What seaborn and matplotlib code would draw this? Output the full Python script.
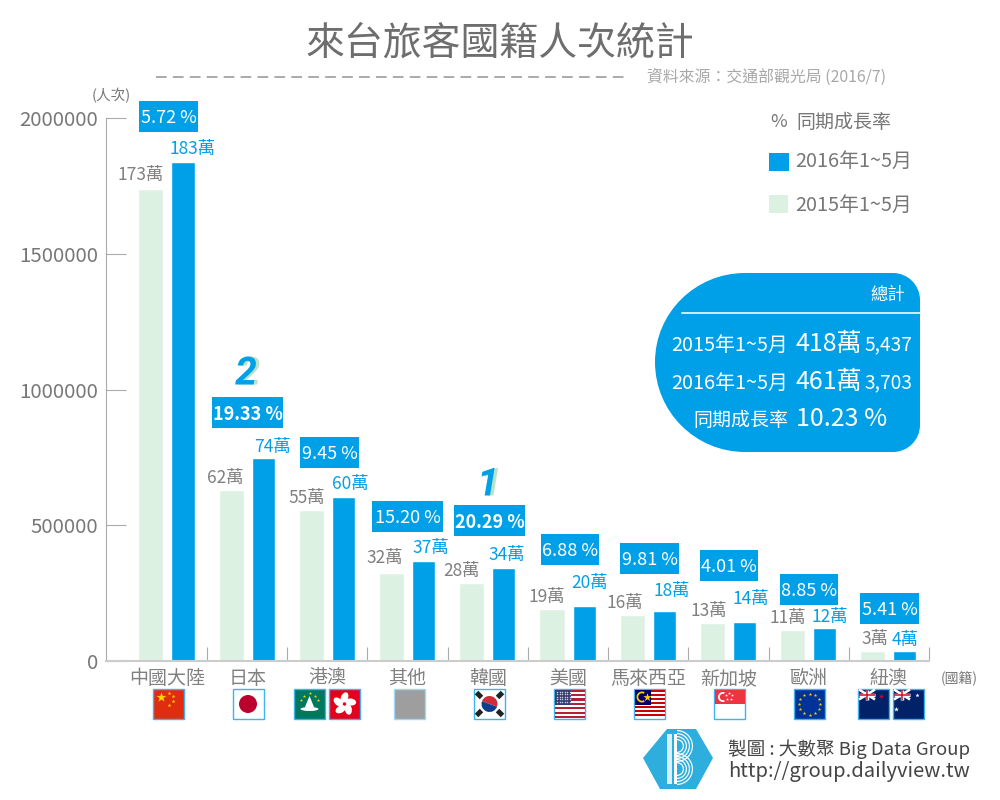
import numpy as np
import matplotlib
matplotlib.use('Agg')
import matplotlib.pyplot as plt
import matplotlib.patheffects as pe
from matplotlib.patches import Rectangle, Circle, Ellipse, Polygon, PathPatch, Wedge
from matplotlib.path import Path
import pandas as pd
import seaborn as sns

# data
paises = ['中國大陸', '日本', '港澳', '其他', '韓國', '美國', '馬來西亞', '新加坡', '歐洲', '紐澳']
v2015 = [1738000, 630000, 556000, 324000, 287000, 191000, 169000, 140000, 114000, 37000]
v2016 = [1838000, 748000, 604000, 368000, 342000, 203000, 184000, 144000, 122000, 37000]
rot2015 = ['173萬', '62萬', '55萬', '32萬', '28萬', '19萬', '16萬', '13萬', '11萬', '3萬']
rot2016 = ['183萬', '74萬', '60萬', '37萬', '34萬', '20萬', '18萬', '14萬', '12萬', '4萬']
cresc = ['5.72 %', '19.33 %', '9.45 %', '15.20 %', '20.29 %', '6.88 %', '9.81 %', '4.01 %', '8.85 %', '5.41 %']
yticks = [0, 500000, 1000000, 1500000, 2000000]

# ajuste dos rotulos em pixels, os dois anos se empurram um ao outro
dx15 = [-10, -6, -5, -7, -10, -5, -7, -4, -5, 2]
dy15 = [2, 0, 0, 3, 0, 0, 0, 0, 0, 0]
dx16 = [10, 9, 7, 7, 3, 6, 7, 6, 5, 0]
dy16 = [3, 1, 3, 3, 3, 12, 10, 13, 0, 1]

AZUL = '#00a0e9'
VERDE = '#ddf1e2'
CINZA = '#808080'
FONTE = ['Noto Sans CJK TC', 'DejaVu Sans']

sns.set_theme(style='white')
plt.rcParams['font.family'] = FONTE
plt.rcParams['axes.unicode_minus'] = False

fig = plt.figure(figsize=(10, 8), dpi=100)
ax = fig.add_axes([0.106, 1 - 661 / 800, 0.823, (661 - 118) / 800])

df = pd.DataFrame({
    'pais': paises * 2,
    'valor': v2015 + v2016,
    'ano': ['2015'] * 10 + ['2016'] * 10,
})
sns.barplot(data=df, x='pais', y='valor', hue='ano', order=paises, hue_order=['2015', '2016'],
            palette={'2015': VERDE, '2016': AZUL}, width=0.8, gap=0.22, legend=False, ax=ax, saturation=1)
# as barras azuis sao um pouco mais estreitas
for b in ax.containers[1]:
    w = b.get_width()
    b.set_x(b.get_x() + 0.012)
    b.set_width(w - 0.024)

ax.set_xlim(-0.76, 9.5)
ax.set_ylim(0, 2000000)
ax.set_xlabel('')
ax.set_ylabel('')
ax.set_yticks(yticks)
ax.set_yticklabels([str(v) for v in yticks], fontsize=14.7, color='#777777')
ax.tick_params(axis='y', direction='in', length=14.4, width=0.8, color='#aaaaaa', pad=5.5, left=True)
ax.set_xticks(range(10))
ax.set_xticklabels(paises, fontsize=13.7, color='#808080')
ax.tick_params(axis='x', length=0, pad=5)
ax.set_xticks(np.arange(0.5, 9.6, 1), minor=True)
ax.tick_params(axis='x', which='minor', direction='in', length=10, width=0.8, color='#aaaaaa', bottom=True)
for s in ['top', 'right']:
    ax.spines[s].set_visible(False)
ax.spines['left'].set_color('#aaaaaa')
ax.spines['left'].set_linewidth(0.8)
ax.spines['bottom'].set_color('#cccccc')
ax.spines['bottom'].set_linewidth(1.5)

for i in range(10):
    ax.annotate(rot2015[i], (i - 0.2, v2015[i]), xytext=(dx15[i] * 0.72, 2 + dy15[i] * 0.72), textcoords='offset points',
                ha='center', va='bottom', fontsize=12.5, color=CINZA)
    ax.annotate(rot2016[i], (i + 0.2, v2016[i]), xytext=(dx16[i] * 0.72, 1 + dy16[i] * 0.72), textcoords='offset points',
                ha='center', va='bottom', fontsize=12.5, color=AZUL)

# camada de cima, em pixels da imagem
ov = fig.add_axes([0, 0, 1, 1], zorder=5)
ov.set_xlim(0, 1000)
ov.set_ylim(800, 0)
ov.axis('off')
ov.patch.set_alpha(0)

def txt(x, y, s, size, color='#777777', ha='center', **kw):
    return ov.text(x, y, s, fontsize=size, color=color, ha=ha, va='center', **kw)

txt(500, 44, '來台旅客國籍人次統計', 28, '#6e6e6e')
ov.plot([156, 628], [77, 77], color='#aaaaaa', lw=1.4, dashes=(5.5, 3.2))
txt(886, 77, '資料來源：交通部觀光局 (2016/7)', 11.4, '#a8a8a8', ha='right')
txt(111, 96, '(人次)', 10.5, '#777777')
txt(959, 679, '(國籍)', 10, '#777777')

# caixas de crescimento
caixas = [(139, 101, 59), (212, 397, 71), (300, 437, 59), (372, 501, 71), (454, 505, 71),
          (541, 534, 58), (620, 543, 59), (700, 550, 58), (780, 574, 58), (860, 593, 59)]
for (x, y, w), c in zip(caixas, cresc):
    ov.add_patch(Rectangle((x, y), w, 31, fc=AZUL, ec='none'))
    neg = c in ('19.33 %', '20.29 %')
    txt(x + w / 2, y + 17, c, 13, 'white', fontweight='bold' if neg else 'normal')

# numeros de ranking, a sombra verde vem do path effect
for s, x, y in [('2', 246, 374), ('1', 488, 485)]:
    t = txt(x, y, s, 28, AZUL, family='Roboto', style='italic', fontweight='bold')
    t.set_path_effects([pe.SimplePatchShadow(offset=(2.5, 0), shadow_rgbFace='#b9e2c6', alpha=1), pe.Normal()])

# legenda
txt(770, 122, '%', 13, ha='left')
txt(796, 122, '同期成長率', 13.7, ha='left')
ov.add_patch(Rectangle((769, 153), 20, 18, fc=AZUL, ec='none'))
txt(795, 161, '2016年1~5月', 14.3, ha='left')
ov.add_patch(Rectangle((769, 195), 19, 18, fc=VERDE, ec='none'))
txt(795, 205, '2015年1~5月', 14.3, ha='left')

# painel do total
x0, x1, y0, y1 = 655, 920, 273, 452
ym = 362
k = 0.5523
rd = 27
xt = 745
verts = [(xt, y0), (x1 - rd, y0), (x1 - rd + k * rd, y0), (x1, y0 + rd - k * rd), (x1, y0 + rd),
         (x1, y1 - rd), (x1, y1 - rd + k * rd), (x1 - rd + k * rd, y1), (x1 - rd, y1),
         (xt, y1), (xt - k * (xt - x0), y1), (x0, ym + k * (y1 - ym)), (x0, ym),
         (x0, ym - k * (ym - y0)), (xt - k * (xt - x0), y0), (xt, y0)]
codes = [Path.MOVETO, Path.LINETO, Path.CURVE4, Path.CURVE4, Path.CURVE4,
         Path.LINETO, Path.CURVE4, Path.CURVE4, Path.CURVE4,
         Path.LINETO, Path.CURVE4, Path.CURVE4, Path.CURVE4,
         Path.CURVE4, Path.CURVE4, Path.CURVE4]
ov.add_patch(PathPatch(Path(verts, codes), fc=AZUL, ec='none'))
ov.plot([682, 920], [313, 313], color='#cfeefb', lw=1.4)
txt(905, 295, '總計', 12.5, 'white', ha='right')
txt(788, 345, '2015年1~5月', 14.3, 'white', ha='right')
txt(796, 344, '418萬', 18, 'white', ha='left')
txt(912, 345, '5,437', 13.8, 'white', ha='right')
txt(788, 383, '2016年1~5月', 14.3, 'white', ha='right')
txt(796, 382, '461萬', 18, 'white', ha='left')
txt(912, 383, '3,703', 13.8, 'white', ha='right')
txt(788, 420, '同期成長率', 13.7, 'white', ha='right')
txt(796, 419, '10.23 %', 18, 'white', ha='left')

# bandeiras
def fundo(x, cor, borda='#3db4ee'):
    ov.add_patch(Rectangle((x, 689), 31, 29.5, fc=cor, ec=borda, lw=1))

def estrela(x, y, cor, s):
    ov.scatter([x], [y], marker='*', s=s, c=cor, linewidths=0, zorder=6)

def cn(x):
    fundo(x, '#e02d10')
    estrela(x + 8, 697, '#ffd800', 55)
    for dx, dy in [(16, 692.5), (20, 696), (20, 701), (16, 705)]:
        estrela(x + dx, dy, '#ffd800', 8)

def jp(x):
    fundo(x, 'white')
    ov.add_patch(Circle((x + 15.5, 704), 9, fc='#bc002d', ec='none', zorder=3))

def mo(x):
    fundo(x, '#00785e')
    ov.add_patch(Polygon([(x + 11, 707), (x + 15.5, 696), (x + 20, 707)], fc='white', ec='none', zorder=3))
    ov.add_patch(Ellipse((x + 15.5, 709), 18, 4, fc='white', ec='none', zorder=3))
    for dx, dy in [(7, 700), (10, 696), (15.5, 693), (21, 696), (24, 700)]:
        estrela(x + dx, dy, '#ffd800', 6)

def hk(x):
    fundo(x, '#e5001b')
    for a in range(0, 360, 72):
        r = np.deg2rad(a - 90)
        ov.add_patch(Ellipse((x + 15.5 + 6.5 * np.cos(r), 704 + 6.5 * np.sin(r)), 11, 7, angle=a - 90 + 25,
                             fc='white', ec='none', zorder=3))

def outro(x):
    fundo(x, '#9e9e9e', '#9fd8f2')

def kr(x):
    fundo(x, 'white')
    c = (x + 15.5, 704)
    ov.add_patch(Wedge(c, 8, 200, 20, fc='#cd2e3a', ec='none', zorder=3))
    ov.add_patch(Wedge(c, 8, 20, 200, fc='#0f3f8c', ec='none', zorder=3))
    for dx, dy in [(5, 695), (26, 695), (5, 713), (26, 713)]:
        ang = 45 if (dx < 15) == (dy < 704) else -45
        ov.add_patch(Rectangle((x + dx - 3.5, dy - 2.5), 7, 5, angle=ang, rotation_point='center',
                               fc='#222222', ec='none', zorder=3))

def us(x):
    fundo(x, 'white')
    for i in range(0, 13, 2):
        ov.add_patch(Rectangle((x + 1, 689.5 + i * 2.2), 29.5, 2.2, fc='#b22234', ec='none', zorder=3))
    ov.add_patch(Rectangle((x + 1, 689.5), 16, 15.5, fc='#3c3b6e', ec='none', zorder=4))
    px, py = np.meshgrid(np.arange(x + 3, x + 16, 2.5), np.arange(691.5, 704, 2.5))
    ov.scatter(px.ravel(), py.ravel(), s=1.2, c='#c8c8e0', linewidths=0, zorder=5)

def my(x):
    fundo(x, 'white')
    for i in range(0, 14, 2):
        ov.add_patch(Rectangle((x + 1, 689.5 + i * 2.05), 29.5, 2.05, fc='#cc0001', ec='none', zorder=3))
    ov.add_patch(Rectangle((x + 1, 689.5), 16, 15, fc='#010066', ec='none', zorder=4))
    ov.add_patch(Wedge((x + 8, 697), 5.5, 60, 300, width=1.8, fc='#ffcc00', ec='none', zorder=5))
    estrela(x + 13, 697, '#ffcc00', 40)

def sg(x):
    fundo(x, 'white')
    ov.add_patch(Rectangle((x + 1, 689.5), 29.5, 14.5, fc='#ef3340', ec='none', zorder=3))
    ov.add_patch(Wedge((x + 9, 697), 5, 70, 290, width=1.8, fc='white', ec='none', zorder=4))
    for dx, dy in [(15, 693), (18, 695), (17, 699), (13, 699), (12, 695)]:
        estrela(x + dx, dy, 'white', 5)

def eu(x):
    fundo(x, '#003399')
    for a in np.arange(0, 360, 30):
        r = np.deg2rad(a)
        estrela(x + 15.5 + 10.5 * np.cos(r), 704 + 10.5 * np.sin(r), '#ffcc00', 7)

def union(x):
    ov.add_patch(Rectangle((x + 1, 689.5), 16, 10, fc='#012169', ec='none', zorder=3))
    ov.plot([x + 1, x + 17], [689.5, 699.5], color='white', lw=1.8, zorder=4, solid_capstyle='butt')
    ov.plot([x + 1, x + 17], [699.5, 689.5], color='white', lw=1.8, zorder=4, solid_capstyle='butt')
    ov.plot([x + 9, x + 9], [689.5, 699.5], color='white', lw=2.5, zorder=4, solid_capstyle='butt')
    ov.plot([x + 1, x + 17], [694.5, 694.5], color='white', lw=2.5, zorder=4, solid_capstyle='butt')
    ov.plot([x + 9, x + 9], [689.5, 699.5], color='#c8102e', lw=1.1, zorder=5, solid_capstyle='butt')
    ov.plot([x + 1, x + 17], [694.5, 694.5], color='#c8102e', lw=1.1, zorder=5, solid_capstyle='butt')

def nz(x):
    fundo(x, '#012169')
    union(x)
    estrela(x + 23, 696, '#e4002b', 14)

def au(x):
    fundo(x, '#012169')
    union(x)
    estrela(x + 24, 695, 'white', 10)
    estrela(x + 3, 709, 'white', 14)

for f, x in [(cn, 153), (jp, 232.5), (mo, 294), (hk, 329), (outro, 394), (kr, 474), (us, 554),
             (my, 634), (sg, 714), (eu, 794), (nz, 858), (au, 893)]:
    f(x)

# logo
LOGO = '#2eaedc'
ov.add_patch(Polygon([(643, 758), (667, 729), (696, 729), (713, 758), (696, 789), (660, 789)], fc=LOGO, ec='none'))
ov.add_patch(Rectangle((667, 734), 5, 50, fc='#d8f0fa', ec='none', zorder=3))
ov.add_patch(Rectangle((674, 734), 2.5, 50, fc='white', ec='none', zorder=3))
for r in [6, 9, 12, 15]:
    ov.add_patch(Wedge((677, 746), r + 1, -90, 90, width=1.2, fc='white', ec='none', zorder=3))
    ov.add_patch(Wedge((677, 769), r + 1, -90, 90, width=1.2, fc='white', ec='none', zorder=3))
txt(728, 749, '製圖 : 大數聚 Big Data Group', 13.4, '#444444', ha='left')
txt(728, 771, 'http://group.dailyview.tw', 14.5, '#444444', ha='left')

fig.savefig('out.png', dpi=100)
